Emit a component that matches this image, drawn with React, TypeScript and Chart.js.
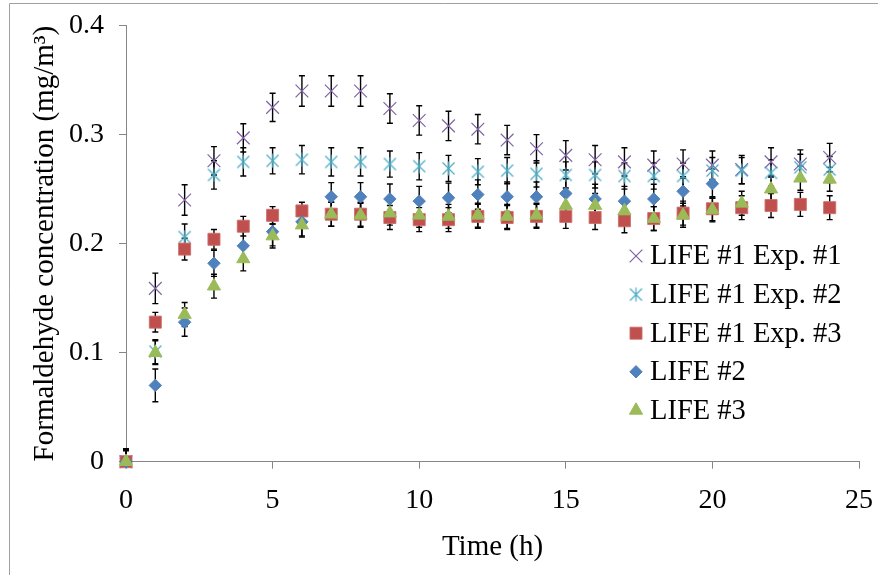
import React, { useEffect, useRef } from 'react';
import { Chart, registerables } from 'chart.js';
import { drawPoint } from 'chart.js/helpers';

Chart.register(...registerables);

// ---- data ----
const hours = [0, 1, 2, 3, 4, 5, 6, 7, 8, 9, 10, 11, 12, 13, 14, 15, 16, 17, 18, 19, 20, 21, 22, 23, 24];

const exp1 = [0, 0.159, 0.240, 0.276, 0.297, 0.325, 0.340, 0.340, 0.340, 0.324, 0.313, 0.308, 0.305, 0.295, 0.287, 0.281, 0.277, 0.275, 0.272, 0.273, 0.272, 0.268, 0.275, 0.273, 0.279];
const exp1Err = [0.012, 0.014, 0.014, 0.013, 0.013, 0.013, 0.014, 0.014, 0.014, 0.0135, 0.0135, 0.0135, 0.0135, 0.0135, 0.013, 0.0135, 0.013, 0.013, 0.013, 0.013, 0.013, 0.013, 0.013, 0.013, 0.013];

const exp2 = [0, 0.101, 0.206, 0.263, 0.275, 0.276, 0.277, 0.275, 0.275, 0.273, 0.271, 0.269, 0.266, 0.267, 0.264, 0.263, 0.263, 0.262, 0.262, 0.262, 0.267, 0.267, 0.265, 0.270, 0.268];
const exp2Err = [0.011, 0.011, 0.012, 0.013, 0.013, 0.012, 0.013, 0.013, 0.013, 0.012, 0.0125, 0.012, 0.012, 0.012, 0.012, 0.012, 0.012, 0.012, 0.012, 0.012, 0.012, 0.012, 0.012, 0.012, 0.012];

const exp3 = [0, 0.128, 0.195, 0.204, 0.216, 0.226, 0.230, 0.227, 0.227, 0.224, 0.222, 0.222, 0.225, 0.224, 0.225, 0.225, 0.224, 0.221, 0.223, 0.228, 0.232, 0.233, 0.235, 0.236, 0.233];
const exp3Err = [0.01, 0.009, 0.01, 0.009, 0.009, 0.008, 0.008, 0.011, 0.011, 0.011, 0.011, 0.011, 0.011, 0.011, 0.011, 0.011, 0.011, 0.011, 0.011, 0.011, 0.011, 0.011, 0.011, 0.011, 0.011];

const life2 = [0, 0.070, 0.128, 0.182, 0.198, 0.211, 0.220, 0.243, 0.243, 0.241, 0.239, 0.242, 0.245, 0.243, 0.243, 0.246, 0.241, 0.239, 0.241, 0.248, 0.255, null, null, null, null];
const life2Err = [0.012, 0.015, 0.013, 0.012, 0.013, 0.013, 0.013, 0.013, 0.013, 0.0137, 0.0135, 0.0135, 0.0135, 0.0135, 0.0135, 0.0135, 0.0135, 0.0135, 0.0135, 0.0135, 0.0135, 0, 0, 0, 0];

const life3 = [0, 0.100, 0.135, 0.161, 0.186, 0.207, 0.217, 0.227, 0.226, 0.228, 0.226, 0.225, 0.226, 0.225, 0.226, 0.235, 0.235, 0.230, 0.223, 0.226, 0.231, 0.237, 0.250, 0.260, 0.259];
const life3Err = [0.011, 0.011, 0.011, 0.011, 0.011, 0.011, 0.011, 0.011, 0.011, 0.011, 0.011, 0.011, 0.011, 0.011, 0.011, 0.011, 0.011, 0.011, 0.011, 0.011, 0.011, 0.011, 0.011, 0.011, 0.011];

const seriesLabels = ['LIFE #1 Exp. #1', 'LIFE #1 Exp. #2', 'LIFE #1 Exp. #3', 'LIFE #2', 'LIFE #3'];
const xTickStep = 5;
const yTickStep = 0.1;

const FONT = "'Liberation Serif', 'Times New Roman', serif";

function makeAsterisk(color: string): HTMLCanvasElement {
  const c = document.createElement('canvas');
  c.width = 15;
  c.height = 15;
  const g = c.getContext('2d')!;
  g.strokeStyle = color;
  g.lineWidth = 1.2;
  g.beginPath();
  g.moveTo(1.5, 1.5); g.lineTo(13.5, 13.5);
  g.moveTo(13.5, 1.5); g.lineTo(1.5, 13.5);
  g.moveTo(7.5, 0.5); g.lineTo(7.5, 14.5);
  g.stroke();
  return c;
}

function toPoints(vals: (number | null)[], errs: number[]) {
  const pts: { x: number; y: number; err: number }[] = [];
  hours.forEach((h, i) => {
    const v = vals[i];
    if (v !== null && v !== undefined) pts.push({ x: h, y: v, err: errs[i] });
  });
  return pts;
}

const errorBarPlugin = {
  id: 'errorBars',
  beforeDatasetsDraw(chart: any) {
    const { ctx, chartArea } = chart;
    const ys = chart.scales.y;
    ctx.save();
    ctx.beginPath();
    ctx.rect(chartArea.left - 10, chartArea.top - 10, chartArea.right - chartArea.left + 20, chartArea.bottom - chartArea.top + 10);
    ctx.clip();
    ctx.strokeStyle = '#000';
    ctx.lineWidth = 1.4;
    chart.data.datasets.forEach((ds: any, i: number) => {
      const meta = chart.getDatasetMeta(i);
      meta.data.forEach((el: any, j: number) => {
        const p = ds.data[j];
        if (!p || !p.err) return;
        const x = el.x;
        const yt = ys.getPixelForValue(p.y + p.err);
        const yb = ys.getPixelForValue(p.y - p.err);
        ctx.beginPath();
        ctx.moveTo(x, yt); ctx.lineTo(x, yb);
        ctx.moveTo(x - 3, yt); ctx.lineTo(x + 3, yt);
        ctx.moveTo(x - 3, yb); ctx.lineTo(x + 3, yb);
        ctx.stroke();
      });
    });
    ctx.restore();
  },
};

const legendPlugin = {
  id: 'customLegend',
  afterDraw(chart: any) {
    const { ctx } = chart;
    const x0 = 636;
    const tx = 650;
    const y0 = 256;
    const dy = 38.6;
    ctx.save();
    chart.data.datasets.forEach((ds: any, i: number) => {
      const y = y0 + dy * i;
      ctx.fillStyle = ds.backgroundColor;
      ctx.strokeStyle = ds.borderColor;
      ctx.lineWidth = ds.pointBorderWidth;
      drawPoint(ctx, { pointStyle: ds.pointStyle, radius: ds.pointRadius, borderWidth: ds.pointBorderWidth, rotation: 0 } as any, x0, y);
      ctx.fillStyle = '#000';
      ctx.font = `28.5px ${FONT}`;
      ctx.textAlign = 'left';
      ctx.textBaseline = 'middle';
      ctx.fillText(ds.label, tx, y + 1);
    });
    ctx.restore();
  },
};

const framePlugin = {
  id: 'frame',
  beforeDraw(chart: any) {
    const { ctx, width, height } = chart;
    ctx.save();
    ctx.fillStyle = '#fff';
    ctx.fillRect(0, 0, width, height);
    ctx.strokeStyle = '#a0a0a0';
    ctx.lineWidth = 1;
    ctx.beginPath();
    ctx.moveTo(9.5, height);
    ctx.lineTo(9.5, 3.5);
    ctx.lineTo(width, 3.5);
    ctx.stroke();
    ctx.restore();
  },
};

export default function App() {
  const ref = useRef<HTMLCanvasElement>(null);

  useEffect(() => {
    if (!ref.current) return;
    const asterisk = makeAsterisk('#4BACC6');
    const common = { clip: false, showLine: false };
    const chart = new Chart(ref.current, {
      type: 'scatter',
      data: {
        datasets: [
          {
            ...common,
            label: seriesLabels[0],
            data: toPoints(exp1, exp1Err),
            pointStyle: 'crossRot',
            pointRadius: 9,
            pointBorderWidth: 1.2,
            borderColor: '#8064A2',
            backgroundColor: '#8064A2',
            order: 5,
          },
          {
            ...common,
            label: seriesLabels[1],
            data: toPoints(exp2, exp2Err),
            pointStyle: asterisk,
            pointRadius: 7,
            pointBorderWidth: 1.2,
            borderColor: '#4BACC6',
            backgroundColor: '#4BACC6',
            order: 4,
          },
          {
            ...common,
            label: seriesLabels[2],
            data: toPoints(exp3, exp3Err),
            pointStyle: 'rect',
            pointRadius: 8.5,
            pointBorderWidth: 1,
            borderColor: 'rgba(205,110,107,0.9)',
            backgroundColor: '#C0504D',
            order: 3,
          },
          {
            ...common,
            label: seriesLabels[3],
            data: toPoints(life2, life2Err),
            pointStyle: 'rectRot',
            pointRadius: 6.2,
            pointBorderWidth: 1,
            borderColor: '#4F81BD',
            backgroundColor: '#4F81BD',
            order: 2,
          },
          {
            ...common,
            label: seriesLabels[4],
            data: toPoints(life3, life3Err),
            pointStyle: 'triangle',
            pointRadius: 7.6,
            pointBorderWidth: 1,
            borderColor: '#9BBB59',
            backgroundColor: '#9BBB59',
            order: 1,
          },
        ] as any,
      },
      options: {
        animation: false,
        responsive: false,
        devicePixelRatio: 1,
        layout: { padding: { left: 0, right: 19, top: 25.6, bottom: 0 } },
        plugins: {
          legend: { display: false },
          tooltip: { enabled: false },
        },
        scales: {
          x: {
            type: 'linear',
            min: 0,
            max: 25,
            afterFit: (s: any) => { s.height = 113.3; s.paddingLeft = 0; s.paddingRight = 0; },
            ticks: {
              stepSize: xTickStep,
              color: '#000',
              padding: 15,
              maxRotation: 0,
              font: { family: FONT, size: 28 },
            },
            grid: { drawOnChartArea: false, tickLength: 7, color: '#868686', lineWidth: 1 },
            border: { color: '#868686', width: 1 },
            title: {
              display: true,
              text: 'Time (h)',
              color: '#000',
              font: { family: FONT, size: 29 },
              padding: { top: 0, bottom: 10 },
            },
          },
          y: {
            type: 'linear',
            min: 0,
            max: 0.4,
            afterFit: (s: any) => { s.width = 126; s.paddingTop = 0; s.paddingBottom = 0; },
            ticks: {
              stepSize: yTickStep,
              color: '#000',
              padding: 15,
              font: { family: FONT, size: 28 },
            },
            grid: { drawOnChartArea: false, tickLength: 7, color: '#868686', lineWidth: 1 },
            border: { color: '#868686', width: 1 },
            title: {
              display: true,
              text: 'Formaldehyde concentration (mg/m³)',
              color: '#000',
              font: { family: FONT, size: 29 },
              padding: { top: 28, bottom: 0 },
            },
          },
        },
      } as any,
      plugins: [framePlugin, errorBarPlugin, legendPlugin],
    });
    return () => chart.destroy();
  }, []);

  return (
    <div style={{ position: 'fixed', left: 0, top: 0, width: 878, height: 575, background: '#fff' }}>
      <canvas ref={ref} width={878} height={575} style={{ display: 'block', width: 878, height: 575 }} />
    </div>
  );
}
